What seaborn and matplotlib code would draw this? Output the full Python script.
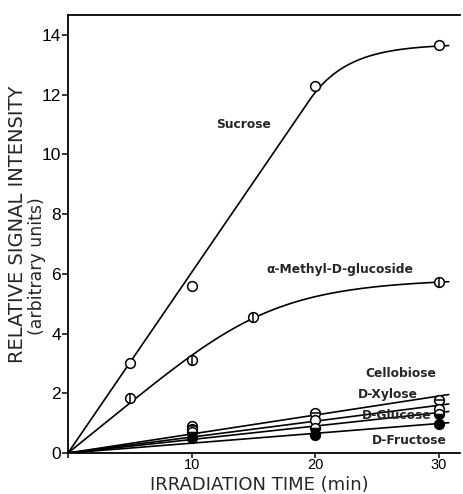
import numpy as np
import pandas as pd
import matplotlib
matplotlib.use("Agg")
import matplotlib.pyplot as plt
from matplotlib import font_manager
import seaborn as sns

# ---- data ----
sucrose_t = [5, 10, 20, 30]
sucrose_y = [3.0, 5.6, 12.3, 13.65]

methyl_t = [5, 10, 15, 30]
methyl_y = [1.85, 3.12, 4.57, 5.72]

low_t = [10, 20, 30]
cellobiose_y = [0.9, 1.33, 1.78]
xylose_y = [0.82, 1.1, 1.48]
glucose_y = [0.72, 0.85, 1.3]
fructose_y = [0.5, 0.6, 0.97]

x_ticks = [0, 10, 20, 30]
x_tick_labels = ["", "10", "20", "30"]
y_ticks = [0, 2, 4, 6, 8, 10, 12, 14]


def sat(t, a, ymax, n):
    return a * t / (1 + (a * t / ymax) ** n) ** (1.0 / n)


def fit_sat(t, y):
    t = np.asarray(t, float); y = np.asarray(y, float)
    best = None
    for n in np.arange(2, 21):
        for ymax in np.linspace(y.max() * 0.9, y.max() * 1.3, 60):
            for a in np.linspace(0.1, 1.0, 181):
                e = np.sum((sat(t, a, ymax, n) - y) ** 2)
                if best is None or e < best[0]:
                    best = (e, a, ymax, n)
    return best[1:]


def linexp(t, a, t0, D):
    t = np.asarray(t, float)
    y0 = a * t0
    return np.where(t <= t0, a * t, y0 + D * (1 - np.exp(-a * (t - t0) / D)))


def fit_linexp(t, y, t0_max):
    t = np.asarray(t, float); y = np.asarray(y, float)
    best = None
    for a in np.linspace(0.4, 0.8, 81):
        for t0 in np.linspace(10, t0_max, 39):
            for D in np.linspace(0.5, 8, 76):
                e = np.sum((linexp(t, a, t0, D) - y) ** 2)
                if best is None or e < best[0]:
                    best = (e, a, t0, D)
    return best[1:]


names = {f.name for f in font_manager.fontManager.ttflist}
narrow = "Liberation Sans Narrow" if "Liberation Sans Narrow" in names else "Liberation Sans"

sns.set_style("ticks")
plt.rcParams["font.family"] = ["DejaVu Sans"]

fig = plt.figure(figsize=(4.64, 4.94), dpi=100)
ax = fig.add_axes([0.1466, 41 / 494, 0.991 - 0.1466, 0.9696 - 41 / 494])

ts = np.linspace(0, 30.8, 300)
curves = []
pa = fit_linexp(sucrose_t, sucrose_y, 19.5)
curves.append(pd.DataFrame({"t": ts, "y": linexp(ts, *pa), "s": "Sucrose"}))
pb = fit_sat(methyl_t, methyl_y)
curves.append(pd.DataFrame({"t": ts, "y": sat(ts, *pb), "s": "Methyl"}))
tl = np.linspace(0, 30.8, 50)
for name, yy in [("Cellobiose", cellobiose_y), ("Xylose", xylose_y),
                 ("Glucose", glucose_y), ("Fructose", fructose_y)]:
    tt = np.asarray(low_t, float)
    slope = np.sum(tt * np.asarray(yy)) / np.sum(tt * tt)
    curves.append(pd.DataFrame({"t": tl, "y": slope * tl, "s": name}))
df = pd.concat(curves, ignore_index=True)
sns.lineplot(data=df, x="t", y="y", units="s", estimator=None, color="black",
             linewidth=1.2, ax=ax, legend=False, sort=False)

mk = dict(markersize=7, markeredgewidth=1.1, markeredgecolor="black", linestyle="none", zorder=5)
bar = dict(color="black", markersize=7, markeredgewidth=1.1, linestyle="none", zorder=6)
ax.plot(sucrose_t, sucrose_y, marker="o", markerfacecolor="white", **mk)
ax.plot(methyl_t, methyl_y, marker="o", markerfacecolor="white", **mk)
ax.plot(methyl_t, methyl_y, marker="|", **bar)
ax.plot(low_t, cellobiose_y, marker="o", markerfacecolor="white", **mk)
ax.plot(low_t, cellobiose_y, marker="_", **bar)
ax.plot(low_t, xylose_y, marker="o", markerfacecolor="white", **mk)
ax.plot(low_t, glucose_y, marker="o", fillstyle="bottom", markerfacecolor="black",
        markerfacecoloralt="white", **mk)
ax.plot(low_t, fructose_y, marker="o", markerfacecolor="black", **mk)

ax.set_xlim(0, 31.7)
ax.set_ylim(0, 14.67)
ax.set_xticks(x_ticks)
ax.set_xticklabels(x_tick_labels)
ax.set_yticks(y_ticks)
ax.tick_params(axis="y", direction="out", length=4, width=1.1, labelsize=12.5,
               colors="black", pad=1)
ax.tick_params(axis="x", direction="out", length=3.5, width=1.1, labelsize=10.5,
               colors="black", pad=0)
for lbl in ax.get_xticklabels() + ax.get_yticklabels():
    lbl.set_fontfamily(narrow)
for sp in ["left", "bottom", "top"]:
    ax.spines[sp].set_visible(True)
    ax.spines[sp].set_linewidth(1.3)
    ax.spines[sp].set_color("black")
ax.spines["right"].set_visible(False)

ax.set_xlabel("")
ax.set_ylabel("")
fig.text(259 / 464, 0.5 / 494, "IRRADIATION TIME (min)", ha="center", va="bottom",
         fontsize=13, family="DejaVu Sans")
fig.text(18 / 464, 1 - 224 / 494, "RELATIVE SIGNAL INTENSITY", rotation=90, ha="center",
         va="center", fontsize=14, family="DejaVu Sans")
fig.text(37 / 464, 1 - 266 / 494, "(arbitrary units)", rotation=90, ha="center", va="center",
         fontsize=12.5, family="DejaVu Sans")

lab = dict(fontsize=8.8, fontweight="bold", ha="center", va="center")
ax.text(14.2, 11.0, "Sucrose", **lab)
ax.text(22.0, 6.15, "α-Methyl-D-glucoside", **lab)
ax.text(26.9, 2.67, "Cellobiose", **lab)
ax.text(25.9, 1.95, "D-Xylose", **lab)
ax.text(26.6, 1.25, "D-Glucose", **lab)
ax.text(27.6, 0.43, "D-Fructose", **lab)

fig.savefig("out.png", dpi=100)
